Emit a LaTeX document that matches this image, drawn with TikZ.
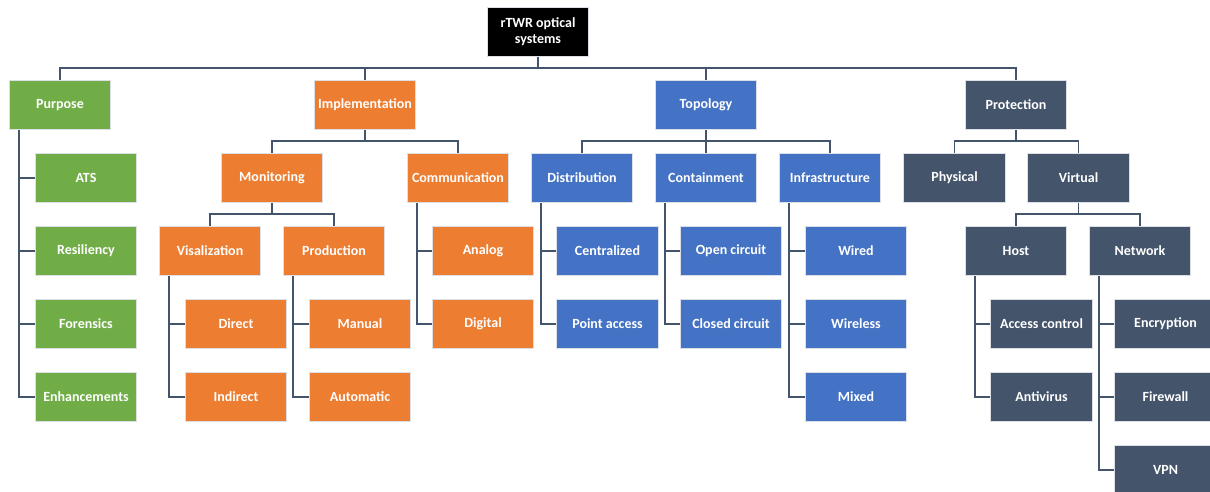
\documentclass[tikz,border=0pt]{standalone}
\usepackage{fontspec}
\setmainfont{Carlito}
\usepackage{tikz}
\usetikzlibrary{calc}

\definecolor{purposeGreen}{HTML}{70AD47}
\definecolor{implOrange}{HTML}{ED7D31}
\definecolor{topoBlue}{HTML}{4472C4}
\definecolor{protSlate}{HTML}{44546A}
\definecolor{linkSlate}{HTML}{44546A}
\definecolor{edgeGrey}{HTML}{DCE0E6}

\tikzset{
  tbox/.style={draw=edgeGrey, line width=0.7pt, text=white, inner sep=1pt, align=center,
    minimum width=76pt, minimum height=37pt, font=\bfseries\fontsize{10.5}{12}\selectfont},
  rootbox/.style={tbox, fill=black},
  greenbox/.style={tbox, fill=purposeGreen},
  orangebox/.style={tbox, fill=implOrange},
  bluebox/.style={tbox, fill=topoBlue},
  slatebox/.style={tbox, fill=protSlate},
  link/.style={draw=linkSlate, line width=1.1pt, line join=miter},
}

\begin{document}
\begin{tikzpicture}[x=0.75pt,y=-0.75pt]
  \useasboundingbox (0,0) rectangle (1210,492);
  \clip (0,0) rectangle (1210,492);
  % root
  \node[rootbox] (root) at (538,32) {rTWR optical\\systems};
  % first level
  \node[greenbox]  (purpose)        at (60,105)   {Purpose};
  \node[orangebox] (implementation) at (365,105)  {Implementation};
  \node[bluebox]   (topology)       at (706,105)  {Topology};
  \node[slatebox]  (protection)     at (1016,105) {Protection};
  \draw[link] (root.south) -- ++(0,11) -| (purpose.north);
  \draw[link] (root.south) -- ++(0,11) -| (implementation.north);
  \draw[link] (root.south) -- ++(0,11) -| (topology.north);
  \draw[link] (root.south) -- ++(0,11) -| (protection.north);
  % purpose
  \node[greenbox] (ats)        at (86,178) {ATS};
  \node[greenbox] (resiliency) at (86,251) {Resiliency};
  \node[greenbox] (forensics)  at (86,324) {Forensics};
  \node[greenbox] (enhance)    at (86,397) {Enhancements};
  \draw[link] ($(purpose.south west)+(10,0)$) |- (ats.west);
  \draw[link] ($(purpose.south west)+(10,0)$) |- (resiliency.west);
  \draw[link] ($(purpose.south west)+(10,0)$) |- (forensics.west);
  \draw[link] ($(purpose.south west)+(10,0)$) |- (enhance.west);
  % implementation
  \node[orangebox] (monitoring)    at (272,178) {Monitoring};
  \node[orangebox] (communication) at (458,178) {Communication};
  \draw[link] (implementation.south) -- ++(0,11) -| (monitoring.north);
  \draw[link] (implementation.south) -- ++(0,11) -| (communication.north);
  \node[orangebox] (visual)     at (210,251) {Visalization};
  \node[orangebox] (production) at (334,251) {Production};
  \draw[link] (monitoring.south) -- ++(0,11) -| (visual.north);
  \draw[link] (monitoring.south) -- ++(0,11) -| (production.north);
  \node[orangebox] (direct)    at (236,324) {Direct};
  \node[orangebox] (indirect)  at (236,397) {Indirect};
  \node[orangebox] (manual)    at (360,324) {Manual};
  \node[orangebox] (automatic) at (360,397) {Automatic};
  \draw[link] ($(visual.south west)+(10,0)$) |- (direct.west);
  \draw[link] ($(visual.south west)+(10,0)$) |- (indirect.west);
  \draw[link] ($(production.south west)+(10,0)$) |- (manual.west);
  \draw[link] ($(production.south west)+(10,0)$) |- (automatic.west);
  \node[orangebox] (analog)  at (483,251) {Analog};
  \node[orangebox] (digital) at (483,324) {Digital};
  \draw[link] ($(communication.south west)+(10,0)$) |- (analog.west);
  \draw[link] ($(communication.south west)+(10,0)$) |- (digital.west);
  % topology
  \node[bluebox] (distribution) at (582,178) {Distribution};
  \node[bluebox] (containment)  at (706,178) {Containment};
  \node[bluebox] (infra)        at (830,178) {Infrastructure};
  \draw[link] (topology.south) -- ++(0,11) -| (distribution.north);
  \draw[link] (topology.south) -- (containment.north);
  \draw[link] (topology.south) -- ++(0,11) -| (infra.north);
  \node[bluebox] (central)    at (607.5,251) {Centralized};
  \node[bluebox] (pointacc)   at (607.5,324) {Point access};
  \node[bluebox] (opencirc)   at (731,251)   {Open circuit};
  \node[bluebox] (closedcirc) at (731,324)   {Closed circuit};
  \node[bluebox] (wired)      at (856,251)   {Wired};
  \node[bluebox] (wireless)   at (856,324)   {Wireless};
  \node[bluebox] (mixed)      at (856,397)   {Mixed};
  \draw[link] ($(distribution.south west)+(10,0)$) |- (central.west);
  \draw[link] ($(distribution.south west)+(10,0)$) |- (pointacc.west);
  \draw[link] ($(containment.south west)+(10,0)$) |- (opencirc.west);
  \draw[link] ($(containment.south west)+(10,0)$) |- (closedcirc.west);
  \draw[link] ($(infra.south west)+(10,0)$) |- (wired.west);
  \draw[link] ($(infra.south west)+(10,0)$) |- (wireless.west);
  \draw[link] ($(infra.south west)+(10,0)$) |- (mixed.west);
  % protection
  \node[slatebox] (physical) at (954.5,178)  {Physical};
  \node[slatebox] (virtual)  at (1078.5,178) {Virtual};
  \draw[link] (protection.south) -- ++(0,11) -| (physical.north);
  \draw[link] (protection.south) -- ++(0,11) -| (virtual.north);
  \node[slatebox] (host)    at (1016,251) {Host};
  \node[slatebox] (network) at (1140,251) {Network};
  \draw[link] (virtual.south) -- ++(0,11) -| (host.north);
  \draw[link] (virtual.south) -- ++(0,11) -| (network.north);
  \node[slatebox] (access)     at (1041.5,324) {Access control};
  \node[slatebox] (antivirus)  at (1041.5,397) {Antivirus};
  \node[slatebox] (encryption) at (1165.5,324) {Encryption};
  \node[slatebox] (firewall)   at (1165.5,397) {Firewall};
  \node[slatebox] (vpn)        at (1165.5,470) {VPN};
  \draw[link] ($(host.south west)+(10,0)$) |- (access.west);
  \draw[link] ($(host.south west)+(10,0)$) |- (antivirus.west);
  \draw[link] ($(network.south west)+(10,0)$) |- (encryption.west);
  \draw[link] ($(network.south west)+(10,0)$) |- (firewall.west);
  \draw[link] ($(network.south west)+(10,0)$) |- (vpn.west);
\end{tikzpicture}
\end{document}
